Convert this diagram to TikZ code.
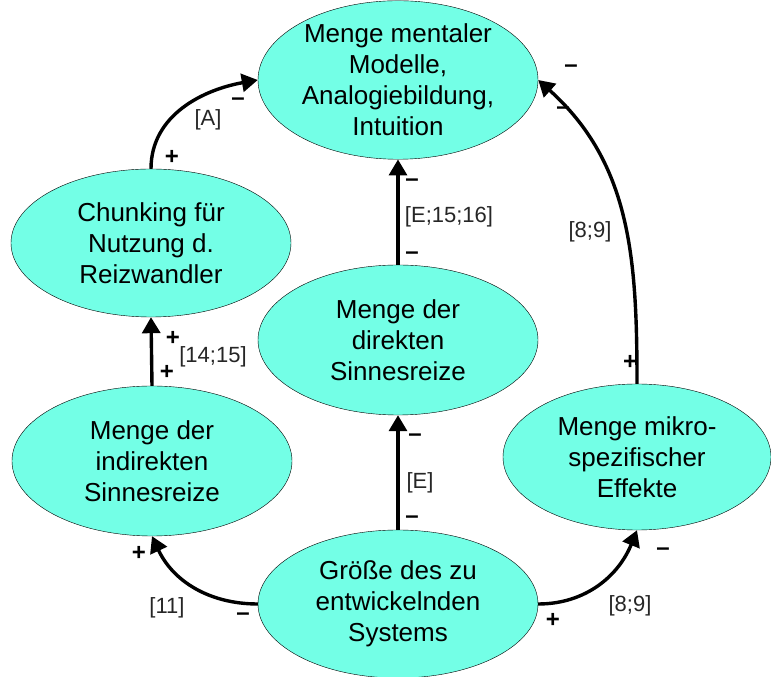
\documentclass[tikz,border=0pt]{standalone}
\usepackage{fontspec}
\setmainfont{Liberation Sans}
\usetikzlibrary{arrows.meta,shapes.geometric}
\definecolor{mint}{RGB}{115,255,230}

\begin{document}
\begin{tikzpicture}[
      x=1pt, y=1pt,
      blob/.style={ellipse, draw, thin, fill=mint, inner sep=0pt,
        minimum width=280pt, minimum height=150pt, align=center,
        font=\fontsize{26}{31}\selectfont},
      arr/.style={-{Triangle[length=16pt,width=18pt]}, line width=3.4pt},
      sgn/.style={font=\fontsize{24}{28}\selectfont\bfseries, inner sep=0pt},
      cite/.style={font=\fontsize{22}{26}\selectfont, inner sep=0pt, text=black!85},
    ]
    \useasboundingbox (0,0) rectangle (771,677);
    % the six quantities
    \node[blob, minimum height=154pt] (mod) at (398,597) {Menge mentaler\\Modelle,\\Analogiebildung,\\Intuition};
    \node[blob, minimum height=148pt] (chunk) at (151,434) {Chunking für\\Nutzung d.\\Reizwandler};
    \node[blob] (dir) at (398,337) {Menge der\\direkten\\Sinnesreize};
    \node[blob] (ind) at (152,216) {Menge der\\indirekten\\Sinnesreize};
    \node[blob, minimum width=268pt, minimum height=146pt] (mikro) at (637,220) {Menge mikro-\\spezifischer\\Effekte};
    \node[blob, minimum height=148pt] (size) at (398,73) {Größe des zu\\entwickelnden\\Systems};
    % influences
    \draw[arr] (size.west) to[out=180,in=-65] (ind.south);
    \draw[arr] (size.east) to[out=0,in=-112] (mikro.south);
    \draw[arr] (size.north) -- (dir.south);
    \draw[arr] (dir.north) -- (mod.south);
    \draw[arr] (ind.north) -- (chunk.south);
    \draw[arr] (chunk.north) to[out=90,in=190] (mod.west);
    \draw[arr] (mikro.north) to[out=90,in=-42] (mod.east);
    % signs and sources
    \node[sgn] (sA1) at (172,520) {+};
    \node[cite] (lA) at (208,557) {[A]};
    \node[sgn] (sA2) at (238,575) {–};
    \node[sgn] (sE1) at (412,494) {–};
    \node[cite] (lE1) at (449,460) {[E;15;16]};
    \node[sgn] (sE2) at (412,421) {–};
    \node[sgn] (sE3) at (415,239) {–};
    \node[cite] (lE) at (420,194) {[E]};
    \node[sgn] (sE4) at (412,157) {–};
    \node[sgn] (s14a) at (173,339) {+};
    \node[cite] (l14) at (213,320) {[14;15]};
    \node[sgn] (s14b) at (167,305) {+};
    \node[sgn] (s11a) at (139,124) {+};
    \node[cite] (l11) at (167,69) {[11]};
    \node[sgn] (s11b) at (243,60) {–};
    \node[sgn] (s89a) at (553,57) {+};
    \node[cite] (l89a) at (630,71) {[8;9]};
    \node[sgn] (s89b) at (663,125) {–};
    \node[sgn] (s89c) at (571,608) {–};
    \node[sgn] (s89d) at (563,566) {–};
    \node[cite] (l89b) at (590,445) {[8;9]};
    \node[sgn] (s89e) at (630,315) {+};
  \end{tikzpicture}
\end{document}
